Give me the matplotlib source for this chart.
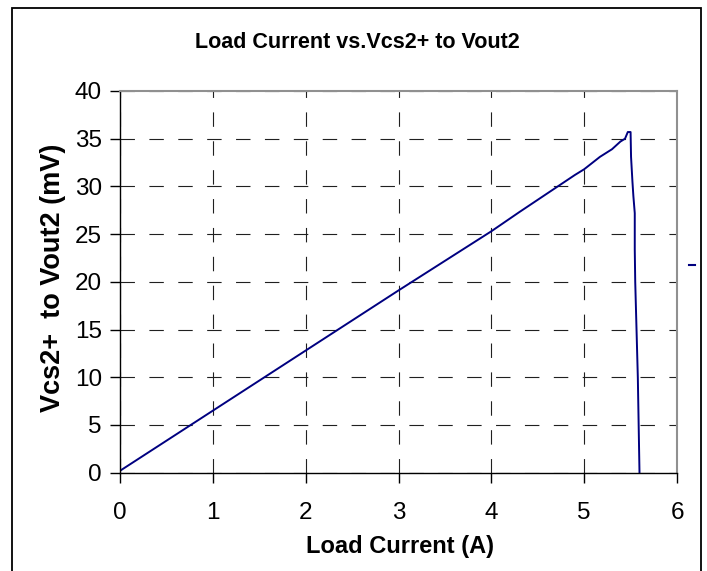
import matplotlib
matplotlib.use("Agg")
import matplotlib.pyplot as plt
from matplotlib.patches import Rectangle
from matplotlib.lines import Line2D

plt.rcParams['font.family'] = ['Liberation Sans', 'DejaVu Sans']

current = [0.0, 1.0, 2.0, 3.0, 4.0, 4.3, 4.9, 5.0, 5.17, 5.3, 5.39, 5.44, 5.47,
           5.50, 5.505, 5.52, 5.53, 5.545, 5.545, 5.55, 5.578, 5.596]
vdrop = [0.2, 6.5, 12.8, 19.1, 25.3, 27.3, 31.2, 31.8, 33.1, 33.9, 34.7, 35.0, 35.7,
         35.7, 33.1, 30.5, 29.0, 27.2, 23.4, 20.0, 10.0, 0.0]
xticks = [0, 1, 2, 3, 4, 5, 6]
yticks = [0, 5, 10, 15, 20, 25, 30, 35, 40]

W, H = 707, 571
fig = plt.figure(figsize=(W / 100, H / 100), dpi=100)
fig.patch.set_facecolor('white')

# outer chart frame
fig.add_artist(Rectangle((12 / W, -0.05), (700.5 - 12) / W, (H - 8) / H + 0.05,
                         transform=fig.transFigure, fill=False,
                         edgecolor='black', linewidth=1.3))

ax = fig.add_axes([120 / W, (H - 472.7) / H, (677 - 120) / W, (472.7 - 91) / H])
ax.plot(current, vdrop, color='#000080', linewidth=1.4)

ax.set_xlim(0, 6)
ax.set_ylim(0, 40)
ax.set_xticks(xticks)
ax.set_yticks(yticks)
ax.tick_params(axis='both', labelsize=17.5, direction='out', length=7, width=1,
               color='black')
ax.tick_params(axis='x', pad=14)
ax.tick_params(axis='y', pad=6)
ax.grid(True, color='#202020', linestyle=(0, (13, 13)), linewidth=0.8)
for s in ['left', 'bottom']:
    ax.spines[s].set_color('black')
    ax.spines[s].set_linewidth(1.0)
for s in ['top', 'right']:
    ax.spines[s].set_color('#909090')
    ax.spines[s].set_linewidth(1.5)

fig.text(399.5 / W, 1 - 547 / H, 'Load Current (A)', ha='center', va='center',
         fontsize=17, fontweight='bold')
fig.text(53 / W, 1 - 278 / H, 'Vcs2+  to Vout2 (mV)', ha='center', va='center',
         rotation=90, fontsize=19.5, fontweight='bold')
fig.text(357.5 / W, 1 - 42 / H, 'Load Current vs.Vcs2+ to Vout2', ha='center',
         va='center', fontsize=15.5, fontweight='bold')

# legend remnant mark
fig.add_artist(Line2D([689 / W, 695 / W], [1 - 265 / H, 1 - 265 / H],
                      transform=fig.transFigure, color='#000080', linewidth=1.5))

fig.savefig('out.png', dpi=100)
